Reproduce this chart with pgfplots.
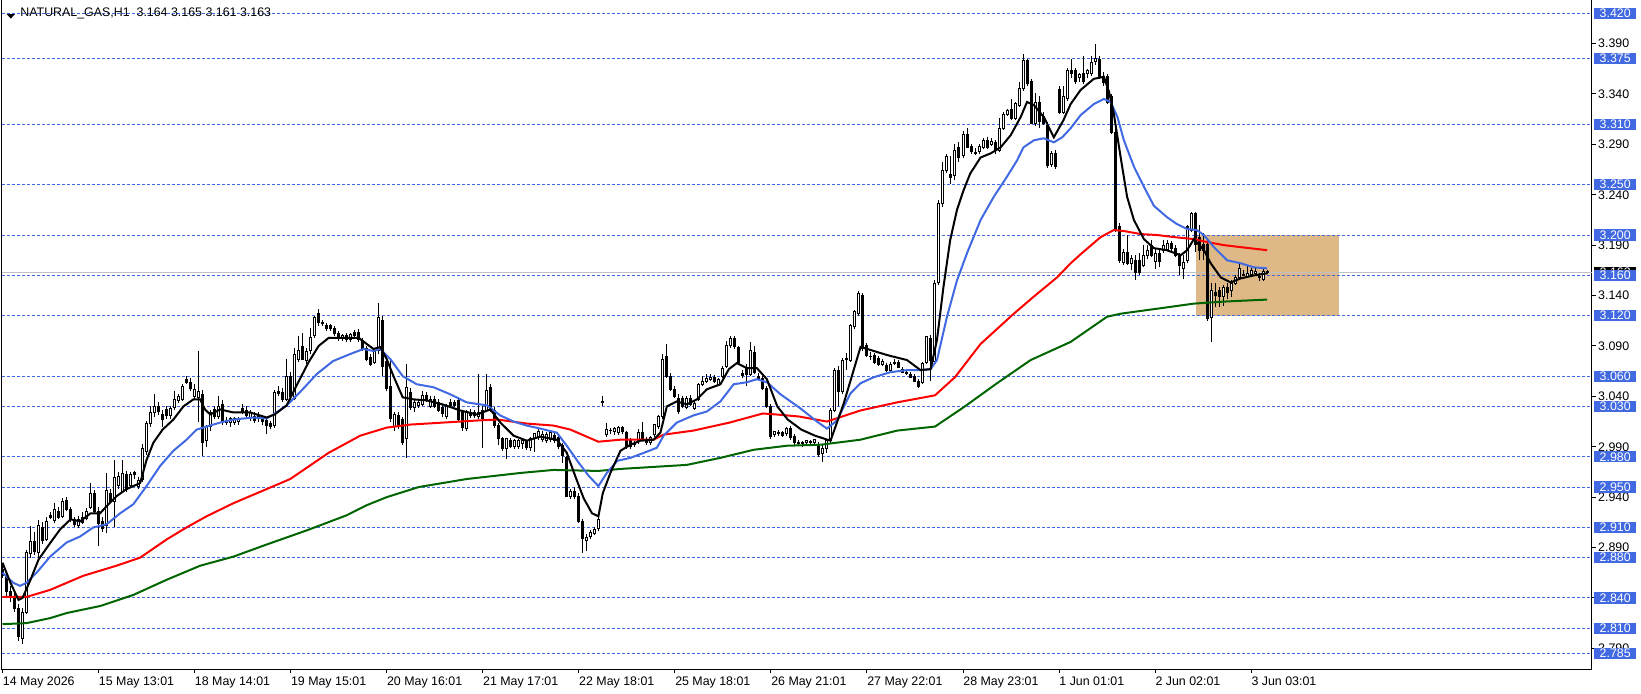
\documentclass[border=0pt]{standalone}
\usepackage{fontspec}
\setmainfont{Liberation Sans}
\usepackage{pgfplots}
\usepackage{pgfplotstable}
\pgfplotsset{compat=1.18}
\definecolor{lvl}{HTML}{4169E1}
\definecolor{mablue}{HTML}{4169E1}
\definecolor{mared}{HTML}{FF0000}
\definecolor{magreen}{HTML}{006400}
\definecolor{zone}{HTML}{DEB887}
\definecolor{bidline}{HTML}{C0C0C0}

\pgfplotstableread{
k o h l c
0 2.868 2.874 2.860 2.862
1 2.862 2.866 2.842 2.846
2 2.846 2.852 2.836 2.840
3 2.840 2.845 2.826 2.830
4 2.830 2.834 2.797 2.802
5 2.800 2.830 2.794 2.826
6 2.826 2.888 2.824 2.885
7 2.884 2.911 2.880 2.896
8 2.896 2.905 2.883 2.886
9 2.885 2.917 2.880 2.912
10 2.910 2.915 2.894 2.897
11 2.898 2.920 2.896 2.916
12 2.922 2.925 2.918 2.920
13 2.917 2.934 2.914 2.928
14 2.926 2.930 2.918 2.920
15 2.921 2.939 2.919 2.936
16 2.937 2.940 2.926 2.928
17 2.928 2.930 2.915 2.918
18 2.918 2.920 2.910 2.913
19 2.912 2.921 2.909 2.918
20 2.920 2.925 2.913 2.915
21 2.919 2.929 2.917 2.926
22 2.930 2.954 2.928 2.944
23 2.944 2.947 2.923 2.926
24 2.926 2.930 2.892 2.914
25 2.916 2.920 2.905 2.909
26 2.912 2.964 2.904 2.947
27 2.944 2.948 2.934 2.936
28 2.936 2.977 2.910 2.959
29 2.952 2.965 2.948 2.960
30 2.946 2.977 2.944 2.963
31 2.962 2.966 2.945 2.948
32 2.952 2.965 2.950 2.962
33 2.964 2.966 2.958 2.962
34 2.951 2.960 2.948 2.957
35 2.958 2.993 2.955 2.988
36 2.985 3.016 2.982 3.013
37 3.013 3.030 3.010 3.024
38 3.024 3.042 3.020 3.030
39 3.030 3.034 3.021 3.025
40 3.022 3.026 3.010 3.017
41 3.027 3.030 3.018 3.021
42 3.021 3.030 3.018 3.028
43 3.029 3.045 3.026 3.037
44 3.036 3.042 3.033 3.040
45 3.037 3.052 3.035 3.050
46 3.057 3.060 3.052 3.054
47 3.054 3.058 3.045 3.048
48 3.040 3.052 3.036 3.047
49 3.039 3.085 3.015 3.045
50 3.042 3.046 2.981 2.994
51 2.996 3.012 2.990 3.010
52 3.010 3.026 3.006 3.024
53 3.027 3.030 3.018 3.020
54 3.020 3.040 3.018 3.030
55 3.032 3.036 3.012 3.014
56 3.016 3.020 3.012 3.014
57 3.014 3.020 3.010 3.018
58 3.014 3.020 3.012 3.018
59 3.015 3.020 3.012 3.018
60 3.028 3.032 3.022 3.024
61 3.026 3.030 3.020 3.021
62 3.019 3.026 3.016 3.024
63 3.020 3.024 3.014 3.016
64 3.021 3.024 3.015 3.018
65 3.018 3.021 3.012 3.015
66 3.016 3.018 3.003 3.011
67 3.013 3.016 3.008 3.010
68 3.011 3.046 3.009 3.044
69 3.045 3.050 3.040 3.043
70 3.044 3.048 3.034 3.037
71 3.037 3.077 3.035 3.060
72 3.060 3.064 3.036 3.040
73 3.038 3.088 3.036 3.082
74 3.077 3.100 3.074 3.085
75 3.089 3.103 3.076 3.077
76 3.076 3.088 3.072 3.084
77 3.085 3.108 3.082 3.098
78 3.100 3.120 3.098 3.118
79 3.122 3.127 3.110 3.113
80 3.113 3.116 3.110 3.112
81 3.110 3.113 3.105 3.107
82 3.110 3.112 3.105 3.107
83 3.107 3.110 3.100 3.102
84 3.102 3.105 3.095 3.097
85 3.097 3.102 3.095 3.100
86 3.100 3.103 3.094 3.096
87 3.096 3.103 3.094 3.101
88 3.103 3.106 3.098 3.100
89 3.103 3.107 3.094 3.096
90 3.095 3.098 3.085 3.087
91 3.087 3.090 3.075 3.077
92 3.079 3.082 3.070 3.072
93 3.074 3.086 3.072 3.084
94 3.085 3.133 3.082 3.118
95 3.115 3.120 3.060 3.070
96 3.075 3.080 3.045 3.048
97 3.050 3.078 3.015 3.018
98 3.010 3.024 3.006 3.022
99 3.021 3.024 3.008 3.011
100 3.017 3.020 2.992 2.994
101 2.998 3.072 2.979 3.049
102 3.044 3.048 3.026 3.029
103 3.029 3.036 3.024 3.034
104 3.031 3.036 3.028 3.034
105 3.032 3.045 3.030 3.041
106 3.041 3.044 3.034 3.036
107 3.030 3.040 3.028 3.037
108 3.037 3.040 3.028 3.030
109 3.034 3.037 3.024 3.026
110 3.029 3.032 3.020 3.023
111 3.020 3.032 3.018 3.030
112 3.034 3.037 3.028 3.031
113 3.034 3.036 3.029 3.031
114 3.036 3.038 3.015 3.017
115 3.024 3.026 3.006 3.009
116 3.008 3.026 3.006 3.024
117 3.024 3.027 3.019 3.021
118 3.024 3.026 3.019 3.021
119 3.020 3.062 3.018 3.024
120 3.026 3.030 2.989 3.018
121 3.026 3.062 3.024 3.046
122 3.049 3.052 3.024 3.026
123 3.026 3.029 3.009 3.011
124 3.011 3.014 2.992 2.998
125 2.998 3.000 2.986 2.988
126 2.988 2.999 2.978 2.998
127 2.996 2.999 2.989 2.990
128 2.990 2.998 2.988 2.996
129 2.990 2.998 2.988 2.996
130 2.993 2.997 2.988 2.996
131 2.995 2.997 2.987 2.989
132 2.989 3.000 2.986 2.998
133 2.998 3.004 2.985 3.003
134 3.000 3.008 2.997 3.005
135 2.997 3.006 2.995 3.002
136 2.996 3.005 2.994 3.002
137 2.997 3.006 2.995 3.004
138 3.001 3.004 2.994 2.996
139 2.999 3.002 2.988 2.990
140 2.991 2.994 2.974 2.981
141 2.979 2.981 2.940 2.941
142 2.941 2.948 2.938 2.946
143 2.946 2.950 2.938 2.941
144 2.941 2.944 2.914 2.916
145 2.916 2.918 2.885 2.899
146 2.897 2.903 2.887 2.900
147 2.901 2.907 2.898 2.905
148 2.904 2.910 2.902 2.908
149 2.909 2.921 2.906 2.918
150 3.034 3.040 3.030 3.035
151 3.002 3.014 3.000 3.007
152 3.006 3.009 3.003 3.006
153 3.005 3.010 3.002 3.008
154 3.004 3.011 3.002 3.009
155 3.009 3.011 3.003 3.005
156 3.004 3.006 2.988 2.990
157 2.997 2.999 2.988 2.990
158 2.992 2.996 2.990 2.993
159 2.995 3.008 2.993 3.004
160 3.004 3.015 2.996 2.997
161 2.997 3.000 2.992 2.994
162 2.994 3.001 2.992 2.999
163 3.002 3.013 3.000 3.012
164 3.010 3.021 3.008 3.020
165 3.020 3.082 3.018 3.077
166 3.080 3.092 3.058 3.060
167 3.060 3.063 3.045 3.047
168 3.047 3.050 3.038 3.040
169 3.038 3.042 3.022 3.025
170 3.038 3.040 3.028 3.030
171 3.029 3.040 3.027 3.038
172 3.038 3.041 3.030 3.032
173 3.028 3.035 3.026 3.033
174 3.037 3.053 3.035 3.052
175 3.052 3.060 3.050 3.055
176 3.055 3.062 3.053 3.058
177 3.057 3.062 3.055 3.059
178 3.059 3.061 3.053 3.055
179 3.052 3.058 3.050 3.057
180 3.060 3.070 3.058 3.068
181 3.070 3.095 3.068 3.090
182 3.090 3.100 3.088 3.097
183 3.097 3.100 3.087 3.089
184 3.088 3.090 3.072 3.074
185 3.063 3.066 3.058 3.061
186 3.069 3.072 3.050 3.062
187 3.062 3.094 3.060 3.085
188 3.083 3.090 3.062 3.064
189 3.060 3.063 3.056 3.058
190 3.058 3.060 3.046 3.048
191 3.048 3.050 3.028 3.030
192 3.030 3.032 2.998 3.000
193 3.002 3.006 3.000 3.005
194 3.004 3.007 3.001 3.003
195 3.004 3.006 3.000 3.001
196 3.003 3.010 3.001 3.008
197 3.008 3.011 2.997 2.999
198 3.000 3.003 2.992 2.994
199 2.994 2.997 2.991 2.993
200 2.993 2.996 2.990 2.994
201 2.994 2.997 2.991 2.996
202 2.995 2.997 2.992 2.994
203 2.994 2.998 2.991 2.997
204 2.992 2.995 2.980 2.982
205 2.983 2.992 2.975 2.988
206 2.988 2.998 2.984 2.996
207 2.996 3.028 2.994 3.026
208 3.026 3.068 3.024 3.066
209 3.066 3.070 3.030 3.045
210 3.045 3.078 3.042 3.076
211 3.077 3.083 3.066 3.078
212 3.076 3.112 3.074 3.110
213 3.109 3.126 3.107 3.124
214 3.122 3.145 3.120 3.142
215 3.140 3.143 3.085 3.087
216 3.090 3.093 3.079 3.081
217 3.080 3.084 3.076 3.080
218 3.081 3.083 3.072 3.074
219 3.078 3.080 3.070 3.072
220 3.072 3.077 3.070 3.075
221 3.071 3.073 3.064 3.066
222 3.066 3.074 3.064 3.072
223 3.073 3.077 3.071 3.074
224 3.074 3.076 3.068 3.069
225 3.067 3.069 3.063 3.064
226 3.064 3.067 3.061 3.063
227 3.062 3.064 3.058 3.059
228 3.060 3.062 3.054 3.055
229 3.055 3.057 3.048 3.050
230 3.054 3.074 3.052 3.073
231 3.074 3.100 3.072 3.099
232 3.097 3.101 3.055 3.076
233 3.075 3.155 3.073 3.152
234 3.153 3.235 3.150 3.231
235 3.231 3.272 3.228 3.264
236 3.264 3.280 3.262 3.278
237 3.260 3.278 3.251 3.257
238 3.259 3.290 3.255 3.284
239 3.287 3.292 3.272 3.277
240 3.279 3.303 3.276 3.300
241 3.300 3.306 3.286 3.287
242 3.288 3.290 3.280 3.283
243 3.282 3.286 3.279 3.281
244 3.283 3.290 3.280 3.288
245 3.287 3.296 3.285 3.294
246 3.294 3.297 3.285 3.287
247 3.290 3.296 3.288 3.293
248 3.292 3.294 3.280 3.284
249 3.284 3.316 3.282 3.306
250 3.306 3.322 3.304 3.320
251 3.320 3.325 3.318 3.324
252 3.325 3.335 3.314 3.316
253 3.316 3.332 3.314 3.331
254 3.329 3.352 3.327 3.345
255 3.345 3.380 3.343 3.373
256 3.373 3.375 3.348 3.350
257 3.352 3.355 3.310 3.311
258 3.311 3.341 3.308 3.332
259 3.332 3.338 3.306 3.313
260 3.318 3.322 3.309 3.311
261 3.309 3.312 3.267 3.269
262 3.270 3.283 3.268 3.281
263 3.281 3.284 3.266 3.268
264 3.344 3.348 3.320 3.322
265 3.322 3.348 3.320 3.337
266 3.335 3.366 3.333 3.363
267 3.363 3.375 3.356 3.360
268 3.363 3.366 3.350 3.352
269 3.356 3.361 3.352 3.359
270 3.360 3.378 3.350 3.352
271 3.360 3.365 3.356 3.363
272 3.360 3.378 3.358 3.371
273 3.372 3.390 3.369 3.375
274 3.374 3.378 3.355 3.357
275 3.357 3.362 3.348 3.351
276 3.357 3.360 3.330 3.332
277 3.337 3.340 3.300 3.302
278 3.302 3.305 3.203 3.205
279 3.208 3.212 3.172 3.175
280 3.173 3.186 3.170 3.183
281 3.183 3.200 3.170 3.172
282 3.172 3.180 3.165 3.177
283 3.175 3.180 3.155 3.163
284 3.175 3.182 3.160 3.163
285 3.170 3.190 3.168 3.180
286 3.180 3.190 3.176 3.185
287 3.190 3.195 3.178 3.180
288 3.174 3.186 3.166 3.182
289 3.182 3.185 3.168 3.174
290 3.185 3.195 3.182 3.190
291 3.186 3.195 3.184 3.192
292 3.192 3.194 3.184 3.187
293 3.187 3.190 3.178 3.180
294 3.180 3.182 3.160 3.170
295 3.167 3.180 3.156 3.173
296 3.175 3.210 3.172 3.208
297 3.205 3.223 3.203 3.221
298 3.221 3.223 3.183 3.191
299 3.198 3.210 3.175 3.185
300 3.191 3.202 3.175 3.185
301 3.191 3.195 3.115 3.117
302 3.118 3.152 3.094 3.145
303 3.143 3.152 3.129 3.140
304 3.145 3.148 3.129 3.139
305 3.139 3.150 3.130 3.148
306 3.148 3.152 3.137 3.143
307 3.145 3.155 3.139 3.152
308 3.152 3.160 3.150 3.158
309 3.158 3.172 3.156 3.167
310 3.161 3.165 3.159 3.160
311 3.159 3.169 3.157 3.162
312 3.161 3.167 3.158 3.165
313 3.162 3.167 3.159 3.164
314 3.159 3.162 3.154 3.158
315 3.156 3.167 3.154 3.164
316 3.164 3.165 3.161 3.163
}\ohlc

\pgfplotstableread{
k v
0 2.875
2 2.855
4 2.838
5 2.840
7 2.858
9 2.878
12 2.895
14.4 2.908
17 2.918
19.4 2.916
22 2.924
24.4 2.924
26 2.931
28.5 2.941
31 2.948
34.4 2.954
36 2.977
37.7 2.994
40 3.007
42.7 3.017
45.2 3.030
47.7 3.037
49.4 3.037
50.6 3.027
51.9 3.022
54.4 3.027
57.7 3.024
61.9 3.024
66 3.019
68 3.022
71 3.031
73.5 3.051
76.5 3.074
79 3.090
81.5 3.098
84.8 3.098
89 3.098
91 3.092
92.7 3.087
94.4 3.089
96 3.077
97.7 3.060
100 3.039
102.7 3.037
106 3.036
110 3.032
114.4 3.026
118.5 3.022
121.9 3.027
124.4 3.014
127.7 3.001
131 2.996
134.4 3.000
138.5 2.997
141 2.984
143.1 2.961
145.2 2.939
147.3 2.924
148.9 2.921
150 2.944
151.9 2.964
154.4 2.986
156.9 2.992
159.4 2.996
162.7 2.997
164.4 3.004
166 3.030
168.5 3.035
171 3.032
173.5 3.037
176 3.047
179.4 3.052
181.5 3.067
183.5 3.073
186 3.068
188.5 3.068
191 3.057
193.6 3.030
196.2 3.017
199.6 3.007
203 3.001
206.9 2.996
210.2 3.033
214.4 3.089
216.9 3.086
221 3.081
226 3.076
229.4 3.066
231.9 3.067
233.5 3.096
235.1 3.148
236.8 3.195
238.5 3.225
240.1 3.244
241.8 3.261
244.4 3.277
246.9 3.281
249.4 3.287
251.9 3.299
254.4 3.317
256 3.332
257.7 3.329
260.2 3.317
262.7 3.297
265.1 3.314
266.9 3.330
269.4 3.344
272.7 3.355
275.2 3.357
276.5 3.342
277.7 3.320
279.4 3.277
281 3.238
282.7 3.215
285.2 3.196
287.7 3.187
290.9 3.185
294.4 3.180
296 3.185
297.7 3.196
300.2 3.185
301.9 3.172
304.4 3.158
306.9 3.153
309.4 3.157
312.7 3.160
316 3.162
}\maFast

\pgfplotstableread{
k v
0 2.865
2.7 2.855
4.4 2.852
6 2.855
8.5 2.865
11.9 2.881
16 2.895
19.4 2.901
22.7 2.910
26 2.913
29.4 2.924
32.7 2.933
36 2.951
39.4 2.971
42.7 2.986
46 2.997
48.5 3.007
51 3.010
54.4 3.014
57.7 3.017
62.7 3.019
66 3.018
67.7 3.022
71 3.031
74.3 3.044
78.5 3.062
82.6 3.075
86.9 3.082
90.2 3.087
92.7 3.085
94.4 3.087
96.9 3.077
100 3.060
103.5 3.052
107.7 3.049
111.9 3.042
116 3.034
121.1 3.031
124.4 3.021
127.7 3.015
131 3.011
134.4 3.008
138.5 3.004
141 2.991
144 2.974
146.5 2.961
148.9 2.951
151 2.964
153.6 2.976
156.9 2.979
160.3 2.984
163.5 2.989
165.2 3.001
168.5 3.014
172.6 3.021
176 3.025
179.4 3.035
182.7 3.052
186 3.054
188.5 3.057
191 3.054
194.4 3.042
199.4 3.028
203.5 3.015
206 3.008
208.5 3.016
211.9 3.043
214.4 3.053
217.7 3.059
221.9 3.064
226 3.066
229.4 3.066
231.9 3.067
233.5 3.076
236 3.119
238.5 3.155
241 3.182
244.4 3.215
247.7 3.238
251 3.258
253.5 3.274
255.1 3.287
257.7 3.294
260.2 3.296
262.7 3.292
264.8 3.297
266.9 3.306
269.4 3.319
272.7 3.330
275.2 3.335
276.9 3.332
278.6 3.317
280.2 3.294
282.7 3.268
285.2 3.248
287.7 3.229
290.9 3.218
293.4 3.211
296 3.206
298.4 3.205
300.2 3.200
302.7 3.188
306 3.175
309.4 3.172
312.7 3.168
316 3.167
}\maMid

\pgfplotstableread{
k v
0 2.841
6 2.841
11.9 2.848
20.2 2.862
28.5 2.872
34.4 2.880
41 2.898
46 2.910
51 2.921
57.7 2.934
66 2.948
71.9 2.958
81.5 2.984
89.4 3.001
96 3.009
101.9 3.012
110.2 3.014
118.5 3.016
123.6 3.017
131 3.013
137.7 3.011
141.9 3.007
148.9 2.995
154.4 2.997
162.7 2.997
165.2 3.002
172.6 3.006
181.7 3.014
190 3.023
193.4 3.022
199 3.020
206 3.015
214.4 3.026
223.5 3.034
233 3.041
238 3.059
244.4 3.092
252.7 3.122
257.7 3.139
263.5 3.158
266.9 3.172
269.4 3.181
274.4 3.198
277.7 3.205
280.2 3.204
284.4 3.201
288.6 3.200
292.7 3.198
297.7 3.196
301.1 3.193
305.2 3.190
309.4 3.188
316 3.185
}\maSlow

\pgfplotstableread{
k v
0 2.814
6 2.815
11.9 2.820
16 2.825
24.4 2.832
32.7 2.843
41 2.858
49.4 2.872
57.7 2.881
66 2.893
76 2.907
86 2.922
91 2.932
96 2.940
104 2.950
116 2.958
125 2.962
129.4 2.964
137.7 2.967
148.9 2.966
154.4 2.968
162.7 2.970
171 2.972
179.4 2.979
187.7 2.987
196 2.991
204.4 2.992
214.4 2.997
223.5 3.006
233 3.010
240.1 3.029
248.5 3.053
256.9 3.076
266.9 3.094
276 3.119
279.4 3.122
288.6 3.127
297.7 3.132
305.2 3.134
316 3.136
}\maLong

\begin{document}
\begin{tikzpicture}[x=1pt,y=1pt]
\begin{axis}[
  at={(1pt,12pt)}, anchor=south west,
  scale only axis, width=794.5pt, height=335.5pt,
  xmin=-0.125, xmax=397.125, ymin=2.7695, ymax=3.43518,
  clip=false,
  axis line style={line width=0.5pt, black},
  tick style={line width=0.5pt, black},
  tick align=outside, major tick length=2pt,
  xtick pos=bottom, ytick pos=right, yticklabel pos=right,
  xtick={0,24,48,72,96,120,144,168,192,216,240,264,288,312},
  xticklabels={14 May 2026,15 May 13:01,18 May 14:01,19 May 15:01,20 May 16:01,21 May 17:01,22 May 18:01,25 May 18:01,26 May 21:01,27 May 22:01,28 May 23:01,1 Jun 01:01,2 Jun 02:01,3 Jun 03:01},
  ytick={2.79,2.84,2.89,2.94,2.99,3.04,3.09,3.14,3.19,3.24,3.29,3.34,3.39},
  yticklabel={\pgfmathprintnumber[fixed,fixed zerofill,precision=3,assume math mode=true]{\tick}},
  ticklabel style={font=\fontsize{6.2}{7}\selectfont, text=black},
  xticklabel style={anchor=north west, inner sep=0pt, yshift=-1.5pt},
  yticklabel style={anchor=west, inner sep=0pt, xshift=1pt},
  after end axis/.code={
    \node[fill=black, text=white, anchor=west, inner sep=0pt, minimum width=21pt, minimum height=5.65pt, font=\fontsize{6.2}{7}\selectfont, xshift=1pt] at (axis cs:397.125,3.163) {3.163};
    \pgfplotsinvokeforeach{3.420,3.375,3.310,3.250,3.200,3.160,3.120,3.060,3.030,2.980,2.950,2.910,2.880,2.840,2.810,2.785}{
      \node[fill=lvl, text=white, anchor=west, inner sep=0pt, minimum width=21pt, minimum height=5.65pt, font=\fontsize{6.2}{7}\selectfont, xshift=1pt] at (axis cs:397.125,##1) {##1};
    }
  },
]
% rectangle zone (behind)
\fill[zone] (axis cs:298.1,3.120) rectangle (axis cs:333.9,3.200);
% level lines
\pgfplotsinvokeforeach{3.420,3.375,3.310,3.250,3.200,3.160,3.120,3.060,3.030,2.980,2.950,2.910,2.880,2.840,2.810,2.785}{
  \draw[lvl, line width=0.5pt, dash pattern=on 1.5pt off 1pt] (axis cs:-0.125,#1) -- (axis cs:397.125,#1);
}
\draw[bidline, line width=0.5pt] (axis cs:-0.125,3.163) -- (axis cs:397.125,3.163);

% wicks
\addplot[draw=none, no markers, error bars/.cd, y dir=plus, y explicit, error mark=none,
  error bar style={draw=black, line width=0.5pt}]
  table[x=k, y=l, y error plus expr=\thisrow{h}-\thisrow{l}] {\ohlc};
% bodies
\addplot[draw=none, no markers, error bars/.cd, y dir=plus, y explicit, error mark=none,
  error bar style={draw=black, line width=1.5pt}]
  table[x=k, y expr={min(\thisrow{o},\thisrow{c})-0.0005}, y error plus expr={abs(\thisrow{c}-\thisrow{o})+0.001}] {\ohlc};
% bullish interiors
\addplot[draw=none, no markers, restrict expr to domain={\thisrow{c}-\thisrow{o}}{0.0015:1},
  error bars/.cd, y dir=plus, y explicit, error mark=none,
  error bar style={draw=white, line width=0.5pt}]
  table[x=k, y expr={\thisrow{o}+0.0005}, y error plus expr={\thisrow{c}-\thisrow{o}-0.001}] {\ohlc};

% moving averages
\addplot[magreen, line width=1pt, mark=none] table[x=k, y=v] {\maLong};
\addplot[mared, line width=1pt, mark=none] table[x=k, y=v] {\maSlow};
\addplot[mablue, line width=1pt, mark=none] table[x=k, y=v] {\maMid};
\addplot[black, line width=1pt, mark=none] table[x=k, y=v] {\maFast};
\end{axis}
% title
\fill[black] (3.3pt,339.5pt) -- (7.5pt,339.5pt) -- (5.4pt,337.2pt) -- cycle;
\node[anchor=west, inner sep=0pt, font=\fontsize{6.2}{7}\selectfont] at (10pt,339.85pt) {NATURAL\_GAS,H1\ \ 3.164 3.165 3.161 3.163};
\pgfresetboundingbox
\path (0,0) rectangle (820.5pt,346.5pt);
\end{tikzpicture}
\end{document}
